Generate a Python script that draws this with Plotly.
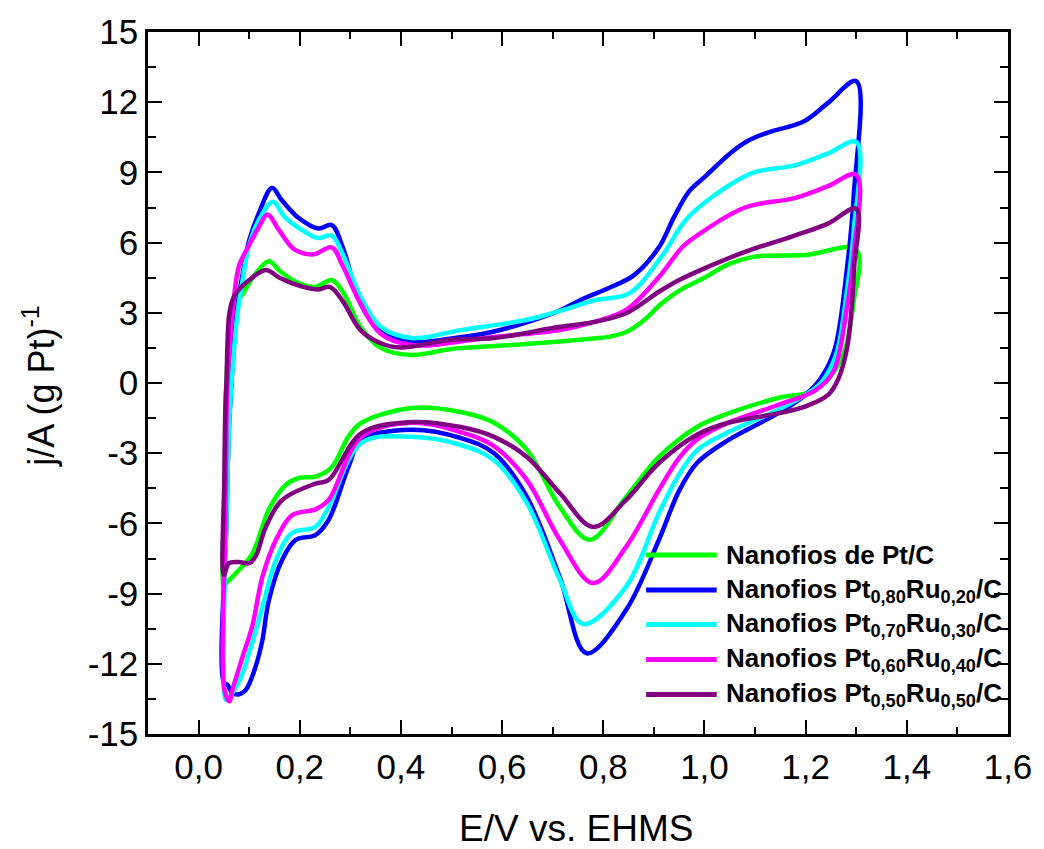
import plotly.graph_objects as go

# ---------------- data ----------------
SERIES_NAMES = [
    "Nanofios de Pt/C",
    "Nanofios Pt<sub>0,80</sub>Ru<sub>0,20</sub>/C",
    "Nanofios Pt<sub>0,70</sub>Ru<sub>0,30</sub>/C",
    "Nanofios Pt<sub>0,60</sub>Ru<sub>0,40</sub>/C",
    "Nanofios Pt<sub>0,50</sub>Ru<sub>0,50</sub>/C",
]
SERIES_COLORS = ["#00FF00", "#0000FF", "#00FFFF", "#FF00FF", "#800080"]

# Pt/C
E_PT = [0.05, 0.052, 0.055, 0.062, 0.072, 0.09, 0.11, 0.139, 0.16, 0.19, 0.23, 0.263, 0.285, 0.32, 0.36,
        0.42, 0.5, 0.6, 0.7, 0.78, 0.81, 0.845, 0.884, 0.91, 0.95, 1.0, 1.05, 1.1, 1.2, 1.3,
        1.295, 1.27, 1.22, 1.145, 1.047, 0.986, 0.91, 0.845, 0.773, 0.714, 0.649, 0.584, 0.518, 0.42,
        0.322, 0.296, 0.263, 0.231, 0.198, 0.172, 0.139, 0.106, 0.075, 0.055, 0.05]
J_PT = [-8.7, -4.0, 0.0, 2.2, 3.3, 3.9, 4.6, 5.2, 4.8, 4.35, 4.1, 4.4, 3.9, 2.4, 1.5,
        1.2, 1.45, 1.6, 1.75, 1.9, 1.97, 2.18, 2.75, 3.3, 3.95, 4.5, 5.1, 5.4, 5.47, 5.7,
        3.5, 1.0, -0.3, -0.64, -1.3, -1.87, -3.16, -4.87, -6.7, -5.3, -2.86, -1.7, -1.24, -1.07,
        -1.7, -2.3, -3.6, -4.0, -4.06, -4.36, -5.4, -7.3, -8.1, -8.55, -8.7]

# Pt0.80Ru0.20
E_PT80 = [0.05, 0.055, 0.06, 0.065, 0.075, 0.09, 0.1, 0.12, 0.145, 0.165, 0.198, 0.237, 0.263, 0.285, 0.32,
          0.36, 0.42, 0.5, 0.584, 0.65, 0.714, 0.76, 0.81, 0.86, 0.91, 0.94, 0.97, 1.0, 1.05, 1.086,
          1.125, 1.198, 1.243, 1.3,
          1.295, 1.282, 1.257, 1.23, 1.2, 1.145, 1.047, 0.986, 0.95, 0.91, 0.845, 0.767, 0.714, 0.649,
          0.584, 0.518, 0.42, 0.322, 0.296, 0.257, 0.231, 0.192, 0.165, 0.139, 0.126, 0.113, 0.094,
          0.08, 0.067, 0.057, 0.05]
J_PT80 = [-12.8, -6.0, -2.0, 0.0, 3.0, 5.0, 6.1, 7.3, 8.33, 7.8, 7.05, 6.6, 6.75, 5.8, 3.4,
          2.2, 1.75, 1.9, 2.2, 2.6, 3.1, 3.6, 4.05, 4.6, 5.8, 7.1, 8.2, 8.8, 9.8, 10.35,
          10.7, 11.2, 11.95, 12.9,
          8.0, 4.96, 1.4, 0.2, -0.5, -1.3, -2.44, -3.4, -4.6, -6.7, -9.7, -11.55, -8.3, -4.87,
          -3.0, -2.35, -2.0, -2.44, -3.6, -5.85, -6.5, -6.7, -7.56, -9.27, -11.0, -12.1, -13.1,
          -13.3, -13.25, -12.9, -12.8]

# Pt0.70Ru0.30
E_PT70 = [0.05, 0.055, 0.06, 0.065, 0.077, 0.084, 0.1, 0.12, 0.147, 0.17, 0.2, 0.235, 0.263, 0.285, 0.32,
          0.36, 0.42, 0.518, 0.649, 0.714, 0.786, 0.851, 0.915, 0.963, 1.015, 1.094, 1.178, 1.243, 1.3,
          1.295, 1.282, 1.26, 1.23, 1.2, 1.145, 1.047, 0.986, 0.95, 0.91, 0.845, 0.76, 0.714, 0.649,
          0.584, 0.518, 0.42, 0.322, 0.257, 0.231, 0.185, 0.153, 0.126, 0.106, 0.087, 0.067, 0.055, 0.05]
J_PT70 = [-13.1, -6.0, -2.0, 0.0, 3.0, 4.0, 5.9, 7.0, 7.75, 7.1, 6.6, 6.2, 6.3, 5.5, 3.7,
          2.4, 1.92, 2.26, 2.7, 3.08, 3.55, 3.83, 5.4, 6.97, 7.95, 8.97, 9.3, 9.8, 10.3,
          6.5, 4.0, 1.2, 0.0, -0.5, -1.15, -2.1, -2.86, -3.9, -5.56, -8.7, -10.3, -8.4, -5.13,
          -3.3, -2.65, -2.3, -2.56, -5.3, -6.15, -6.4, -7.56, -9.6, -11.1, -12.4, -13.25, -13.55, -13.1]

# Pt0.60Ru0.40
E_PT60 = [0.051, 0.053, 0.055, 0.057, 0.067, 0.08, 0.1, 0.12, 0.136, 0.16, 0.19, 0.228, 0.263, 0.285, 0.32,
          0.36, 0.42, 0.584, 0.714, 0.78, 0.845, 0.91, 0.956, 0.982, 1.08, 1.178, 1.243, 1.3,
          1.295, 1.28, 1.255, 1.22, 1.145, 1.047, 0.986, 0.95, 0.91, 0.845, 0.78, 0.714, 0.649,
          0.584, 0.518, 0.42, 0.322, 0.257, 0.231, 0.185, 0.153, 0.126, 0.106, 0.087, 0.067, 0.061, 0.051]
J_PT60 = [-13.1, -6.0, -2.0, 0.0, 3.0, 5.0, 5.9, 6.7, 7.2, 6.5, 5.7, 5.5, 5.8, 5.0, 3.4,
          2.1, 1.62, 1.97, 2.26, 2.6, 3.12, 4.53, 5.8, 6.25, 7.5, 7.9, 8.4, 8.9,
          5.5, 3.0, 0.5, -0.3, -0.94, -1.7, -2.4, -3.2, -4.57, -7.0, -8.55, -6.7, -4.15,
          -2.7, -2.1, -1.7, -2.3, -5.0, -5.4, -5.65, -6.7, -8.3, -10.4, -11.7, -13.1, -13.6, -13.1]

# Pt0.50Ru0.50
E_PT50 = [0.05, 0.051, 0.053, 0.055, 0.061, 0.07, 0.08, 0.1, 0.133, 0.16, 0.2, 0.235, 0.26, 0.285, 0.32,
          0.36, 0.4, 0.5, 0.584, 0.714, 0.78, 0.845, 0.91, 0.95, 1.0, 1.08, 1.178, 1.243, 1.3,
          1.296, 1.29, 1.282, 1.265, 1.245, 1.2, 1.145, 1.047, 0.986, 0.91, 0.845, 0.78, 0.714, 0.649,
          0.584, 0.518, 0.42, 0.322, 0.257, 0.231, 0.165, 0.133, 0.113, 0.1, 0.08, 0.06, 0.05]
J_PT50 = [-8.2, -4.0, -1.0, 0.0, 3.0, 3.7, 4.0, 4.4, 4.83, 4.5, 4.15, 4.0, 4.1, 3.5, 2.26,
          1.7, 1.52, 1.85, 1.92, 2.4, 2.6, 2.98, 3.9, 4.4, 4.9, 5.6, 6.3, 6.8, 7.45,
          4.96, 3.0, 1.5, 0.2, -0.5, -1.0, -1.3, -1.7, -2.2, -3.42, -5.0, -6.15, -4.7, -3.16,
          -2.3, -1.88, -1.67, -2.14, -4.15, -4.3, -5.0, -6.15, -7.4, -7.7, -7.65, -7.7, -8.2]

X_TICKS = [0.0, 0.2, 0.4, 0.6, 0.8, 1.0, 1.2, 1.4, 1.6]
X_TICK_TEXT = ["0,0", "0,2", "0,4", "0,6", "0,8", "1,0", "1,2", "1,4", "1,6"]
Y_TICKS = [-15, -12, -9, -6, -3, 0, 3, 6, 9, 12, 15]
Y_TICK_TEXT = ["-15", "-12", "-9", "-6", "-3", "0", "3", "6", "9", "12", "15"]

X_TITLE = "E/V vs. EHMS"
Y_TITLE = "j/A (g Pt)<sup>-1</sup>"

# ---------------- figure ----------------
W, H = 1044, 849
L, R, T, B = 148, 1013, 32, 734  # plot area in pixels

def px_x(px):
    return (px - L) / (R - L)

def px_y(py):
    return (B - py) / (B - T)

FONT = "Liberation Sans, Arial, sans-serif"

fig = go.Figure()
all_e = [E_PT, E_PT80, E_PT70, E_PT60, E_PT50]
all_j = [J_PT, J_PT80, J_PT70, J_PT60, J_PT50]
for name, color, e, j in zip(SERIES_NAMES, SERIES_COLORS, all_e, all_j):
    fig.add_trace(go.Scatter(x=e, y=j, mode="lines", name=name,
                             line=dict(color=color, width=4.5, shape="spline", smoothing=1.0),
                             showlegend=False))

# manual legend (line sample + text)
leg_rows = [555, 590, 624.5, 659.5, 694.5]
shapes = []
annotations = []
for name, color, ry in zip(SERIES_NAMES, SERIES_COLORS, leg_rows):
    shapes.append(dict(type="line", xref="paper", yref="paper",
                       x0=px_x(649), x1=px_x(720), y0=px_y(ry), y1=px_y(ry),
                       line=dict(color=color, width=5)))
    annotations.append(dict(xref="paper", yref="paper", x=px_x(727), y=px_y(ry),
                            xanchor="left", yanchor="middle", showarrow=False,
                            text="<b>" + name + "</b>",
                            font=dict(family=FONT, size=26, color="black")))

annotations.append(dict(xref="paper", yref="paper", x=px_x(578), y=px_y(828),
                        xanchor="center", yanchor="middle", showarrow=False,
                        text=X_TITLE, font=dict(family=FONT, size=37, color="black")))
annotations.append(dict(xref="paper", yref="paper", x=px_x(38), y=px_y(386),
                        xanchor="center", yanchor="middle", showarrow=False, textangle=-90,
                        text=Y_TITLE, font=dict(family=FONT, size=36, color="black")))

axis_common = dict(showline=True, linecolor="black", linewidth=2.5, mirror="allticks",
                   ticks="inside", tickcolor="black", tickwidth=2, ticklen=14,
                   showgrid=False, zeroline=False,
                   tickfont=dict(family=FONT, size=35, color="black"))

fig.update_layout(
    width=W, height=H,
    margin=dict(l=L, r=W - R, t=T, b=H - B),
    paper_bgcolor="white", plot_bgcolor="white",
    xaxis=dict(range=[-0.1, 1.6], tickmode="array", tickvals=X_TICKS, ticktext=X_TICK_TEXT,
               minor=dict(dtick=0.1, tick0=0, ticks="inside", ticklen=7, tickwidth=2, tickcolor="black"),
               **axis_common),
    yaxis=dict(range=[-15, 15], tickmode="array", tickvals=Y_TICKS, ticktext=Y_TICK_TEXT,
               minor=dict(dtick=1.5, tick0=0, ticks="inside", ticklen=8, tickwidth=2, tickcolor="black"),
               **axis_common),
    shapes=shapes,
    annotations=annotations,
    showlegend=False,
)

fig.write_html("out.html")
